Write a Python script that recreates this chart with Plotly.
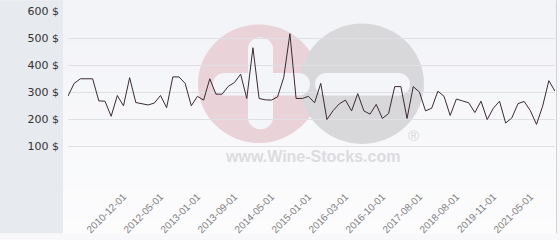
import plotly.graph_objects as go

# ---- data ----
prices = [285, 332, 349, 349, 349, 267, 266, 210, 287, 249,
          353, 261, 256, 252, 259, 287, 242, 356, 356, 332,
          249, 284, 270, 349, 292, 292, 321, 335, 366, 276,
          464, 276, 271, 270, 282, 354, 516, 276, 276, 284,
          260, 332, 198, 231, 256, 270, 230, 294, 230, 218,
          254, 202, 220, 320, 320, 202, 320, 300, 230, 240,
          303, 284, 213, 274, 267, 260, 224, 266, 198, 240,
          266, 185, 204, 257, 265, 231, 180, 248, 342, 303]
point_index = list(range(len(prices)))
tick_positions = [9, 15, 21, 27, 33, 39, 45, 51, 57, 63, 69, 75]
tick_labels = ["2010-12-01", "2012-05-01", "2013-01-01", "2013-09-01",
               "2014-05-01", "2015-01-01", "2016-03-01", "2016-10-01",
               "2017-08-01", "2018-08-01", "2019-11-01", "2021-05-01"]
y_ticks = [0, 100, 200, 300, 400, 500, 600]
y_labels = ["", "100 $", "200 $", "300 $", "400 $", "500 $", "600 $"]

# ---- geometry (pixels) ----
WIDTH, HEIGHT = 560, 240
L, R, T, B = 68, 555, 11, 178
PW, PH = R - L, B - T


def px(x):
    return (x - L) / PW


def py(y):
    return (B - y) / PH


shapes = []
# left panel
shapes.append(dict(type="rect", xref="paper", yref="paper", layer="below",
                   x0=px(0), x1=px(63), y0=py(240), y1=py(0),
                   fillcolor="#e7eaee", line_width=0))
# chart area gradient (stripes)
n = 16
top_c = (242, 243, 247)
bot_c = (252, 252, 253)
for i in range(n):
    f = i / (n - 1)
    c = tuple(round(top_c[k] + (bot_c[k] - top_c[k]) * f) for k in range(3))
    y0 = 240 * i / n
    y1 = 240 * (i + 1) / n + 0.6
    shapes.append(dict(type="rect", xref="paper", yref="paper", layer="below",
                       x0=px(63), x1=px(556), y0=py(y1), y1=py(y0),
                       fillcolor="rgb(%d,%d,%d)" % c, line_width=0))
# right border
shapes.append(dict(type="line", xref="paper", yref="paper", layer="below",
                   x0=px(556.5), x1=px(556.5), y0=py(240), y1=py(0),
                   line=dict(color="#d0d2d6", width=1)))

# watermark
BG = "rgb(244,245,248)"


def circle(cx, cy, r, color):
    return dict(type="circle", xref="paper", yref="paper", layer="below",
                x0=px(cx - r), x1=px(cx + r), y0=py(cy + r), y1=py(cy - r),
                fillcolor=color, line_width=0)


def rect(x0, x1, y0, y1, color):
    return dict(type="rect", xref="paper", yref="paper", layer="below",
                x0=px(x0), x1=px(x1), y0=py(y1), y1=py(y0),
                fillcolor=color, line_width=0)


def pill_h(x0, x1, y0, y1, color):
    r = (y1 - y0) / 2
    return [rect(x0 + r, x1 - r, y0, y1, color),
            circle(x0 + r, (y0 + y1) / 2, r, color),
            circle(x1 - r, (y0 + y1) / 2, r, color)]


def pill_v(x0, x1, y0, y1, color):
    r = (x1 - x0) / 2
    return [rect(x0, x1, y0 + r, y1 - r, color),
            circle((x0 + x1) / 2, y0 + r, r, color),
            circle((x0 + x1) / 2, y1 - r, r, color)]


shapes.append(circle(259, 86, 61, "rgb(234,210,217)"))
shapes.append(circle(362, 86, 62, "rgb(216,216,219)"))
shapes += pill_v(248, 273, 38, 133, BG)
shapes += pill_h(213, 310, 75, 98, BG)
shapes += pill_h(315, 410, 75, 98, BG)

annotations = [
    dict(text="<b>www.Wine-Stocks.com</b>", xref="paper", yref="paper",
         x=px(312), y=py(161), showarrow=False, xanchor="center", yanchor="middle",
         font=dict(family="Liberation Sans", size=16, color="#dcdcdf")),
    dict(text="®", xref="paper", yref="paper", x=px(413), y=py(139),
         showarrow=False, xanchor="center", yanchor="middle",
         font=dict(family="Liberation Sans", size=15, color="#d4d4d7")),
]

fig = go.Figure()
fig.add_trace(go.Scatter(x=point_index, y=prices, mode="lines",
                         line=dict(color="#3b2a33", width=1),
                         hoverinfo="y", showlegend=False))

fig.update_layout(
    width=WIDTH, height=HEIGHT,
    margin=dict(l=L, r=WIDTH - R, t=T, b=HEIGHT - B, pad=0),
    paper_bgcolor="#f8f8fa",
    plot_bgcolor="rgba(0,0,0,0)",
    shapes=shapes,
    annotations=annotations,
    showlegend=False,
    xaxis=dict(range=[0, len(prices) - 1], tickmode="array",
               tickvals=tick_positions, ticktext=tick_labels, tickangle=-45,
               showgrid=False, zeroline=False, showline=False, ticks="",
               ticklabelstandoff=15,
               tickfont=dict(family="Liberation Sans", size=10, color="#808080")),
    yaxis=dict(range=[0, 600], tickmode="array", tickvals=y_ticks,
               ticktext=y_labels, showgrid=True, gridcolor="#dfe0e6",
               gridwidth=1, zeroline=False, showline=False, ticks="",
               ticklabelstandoff=8,
               tickfont=dict(family="DejaVu Sans", size=11, color="#333333")),
)

fig.write_html("out.html", config={"displayModeBar": False})
